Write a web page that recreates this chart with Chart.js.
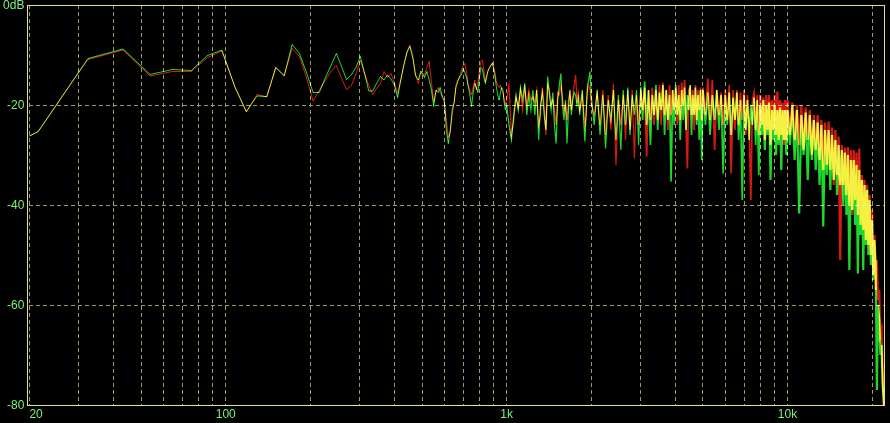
<!DOCTYPE html>
<html><head><meta charset="utf-8">
<script src="https://cdn.jsdelivr.net/npm/chart.js@4.4.1/dist/chart.umd.min.js"></script>
<style>html,body{margin:0;padding:0;background:#000;overflow:hidden}#wrap{width:890px;height:423px}</style>
</head><body><div id="wrap"><canvas id="c" width="890" height="423"></canvas></div>
<script>
// Frequencies (Hz) of the plotted points
const freqs = [
  10.8, 21.5, 32.3, 43.1, 53.8, 64.6, 75.4, 86.1, 96.9, 107.7, 118.4, 129.2, 140, 150.7, 161.5, 172.3, 183,
  193.8, 204.6, 215.3, 226.1, 236.9, 247.6, 258.4, 269.1, 279.9, 290.7, 301.4, 312.2, 323, 333.7, 344.5, 355.3, 366, 376.8, 387.6, 398.3, 409.1, 419.8, 430.6, 441.4, 452.1, 462.9, 473.7, 484.4, 495.2,
  510, 520, 530, 540, 550, 560, 570, 580, 590, 600, 610, 620, 630, 640, 650, 660, 670, 680, 690, 700, 710, 720, 730, 740, 750, 760, 770, 780, 790, 800, 810, 820, 830, 840, 850, 860, 870, 880, 890, 900, 910, 920, 930, 940, 950, 960, 970, 980, 990,
  1000, 1020, 1040, 1060, 1080, 1100, 1120, 1140, 1160, 1180, 1200, 1220, 1240, 1260, 1280, 1300, 1320, 1340, 1360, 1380, 1400, 1420, 1440, 1460, 1480, 1500, 1520, 1540, 1560, 1580, 1600, 1620, 1640, 1660, 1680, 1700, 1720, 1740, 1760, 1780, 1800, 1820, 1840, 1860, 1880, 1900, 1920, 1940, 1960, 1980,
  2000, 2050, 2100, 2150, 2200, 2250, 2300, 2350, 2400, 2450, 2500, 2550, 2600, 2650, 2700, 2750, 2800, 2850, 2900, 2950, 3000, 3050, 3100, 3150, 3200, 3250, 3300, 3350, 3400, 3450, 3500, 3550, 3600, 3650, 3700, 3750, 3800, 3850, 3900, 3950, 4000, 4050, 4100, 4150, 4200, 4250, 4300, 4350, 4400, 4450, 4500, 4550, 4600, 4650, 4700, 4750, 4800, 4850, 4900, 4950,
  5000, 5100, 5200, 5300, 5400, 5500, 5600, 5700, 5800, 5900, 6000, 6100, 6200, 6300, 6400, 6500, 6600, 6700, 6800, 6900, 7000, 7100, 7200, 7300, 7400, 7500, 7600, 7700, 7800, 7900, 8000, 8100, 8200, 8300, 8400, 8500, 8600, 8700, 8800, 8900, 9000, 9100, 9200, 9300, 9400, 9500, 9600, 9700, 9800, 9900,
  10000, 10200, 10400, 10600, 10800, 11000, 11200, 11400, 11600, 11800, 12000, 12200, 12400, 12600, 12800, 13000, 13200, 13400, 13600, 13800, 14000, 14200, 14400, 14600, 14800, 15000, 15200, 15400, 15600, 15800, 16000, 16200, 16400, 16600, 16800, 17000, 17200, 17400, 17600, 17800, 18000, 18200, 18400, 18600, 18800, 19000, 19200, 19400, 19600, 19800, 20000, 20200, 20400, 20600, 20800, 21000, 21200, 21400, 21600, 21800, 22000, 22050
];

// Left channel level (dB) - red trace
const leftChannel = [
  -34, -25.3, -10.9, -9.0, -14.2, -13.3, -13.3, -10.5, -9.2, -16.4, -21.4, -17.9, -18.4, -12.5, -14.2, -8.7, -10.3,
  -14.5, -19.2, -17.0, -15.1, -13.3, -12.1, -14.7, -16.9, -16.1, -13.9, -11.0, -13.7, -16.1, -17.9, -16.7, -15.7, -13.3, -14.5, -13.7, -15.5, -17.7, -15.0, -12.0, -9.5, -8.0, -10.0, -14.0, -15.7, -13.5,
  -14.0, -12.5, -11.3, -15.5, -19.3, -17.5, -16.5, -17.5, -18.0, -19.5, -23.0, -26.5, -25.5, -22.0, -19.7, -16.0, -15.0, -14.5, -13.0, -12.3, -11.7, -13.5, -16.0, -17.0, -18.0, -16.5, -15.0, -17.0, -15.5, -13.0, -11.3, -11.0, -13.0, -15.3, -14.0, -13.0, -12.5, -12.0, -11.5, -12.5, -13.5, -15.5, -16.0, -16.5, -16.0, -17.0, -17.5, -19.0, -20.0,
  -19, -16, -26, -23, -18.5, -20.5, -17, -21, -16.5, -20, -17, -19, -18.5, -19.5, -17, -24, -22, -16.5, -20, -26, -16, -17, -20, -19, -21, -24, -17.5, -18, -16, -18.5, -21, -20, -23, -19, -17.5, -21, -18, -16, -14, -19, -17.5, -21, -20, -18, -21, -24, -22, -17, -16, -17,
  -20, -22, -17.5, -24, -17, -26, -18, -25, -15.7, -32, -19, -24, -18, -27, -17, -25, -17, -30.7, -18, -24, -17, -21, -16.5, -30.3, -17, -23, -16.5, -24, -17, -23, -16, -24, -15.5, -22, -17, -25, -16, -22, -17, -21, -16.5, -24, -16, -23, -15.5, -20, -15, -24, -32.7, -17, -16.5, -22, -17, -25, -16, -23, -17, -21, -16.5, -23,
  -16.5, -22, -14.7, -23, -15, -29, -17, -22, -17.5, -24, -17, -23, -16, -33.7, -17, -25, -17, -24, -17.5, -23, -17, -26, -18, -24, -39, -19, -17.5, -25, -18, -26, -18, -24, -18.5, -27, -18, -25, -18, -28, -19, -25, -18, -26, -17.3, -27, -19, -26, -19.5, -28, -19, -27,
  -19, -26, -19.5, -27, -20, -28, -20, -29, -20.5, -27, -21, -30, -22, -29, -22, -31, -23, -33, -23.5, -32, -23.3, -33, -24.5, -36, -25, -34, -26.3, -51, -28, -36, -28.5, -38, -28.4, -40, -29, -42, -29, -39, -29.5, -42, -28.7, -44, -34, -45, -35, -47, -36, -48, -38, -50, -41, -54, -46, -57, -51, -59, -57, -66, -65, -73, -80, -80
];

// Right channel level (dB) - green trace
const rightChannel = [
  -34, -25.3, -10.7, -8.8, -13.9, -12.9, -13.1, -10.1, -9.0, -16.3, -21.3, -18.2, -18.3, -12.5, -14.1, -7.9, -9.7,
  -13.5, -17.5, -17.5, -14.6, -12.1, -9.7, -12.3, -14.9, -14.0, -12.5, -10.3, -13.7, -17.2, -17.2, -15.7, -14.3, -15.0, -14.0, -14.8, -16.0, -18.5, -15.0, -12.0, -9.5, -8.3, -10.5, -14.0, -15.0, -13.2,
  -14.5, -13.3, -15.0, -17.0, -20.3, -17.0, -17.5, -16.5, -18.5, -19.0, -25.0, -27.7, -25.0, -21.0, -19.5, -16.5, -15.3, -14.3, -14.0, -12.7, -13.5, -14.5, -16.3, -18.0, -20.3, -17.5, -15.7, -16.5, -17.5, -14.5, -12.5, -12.8, -14.5, -15.7, -14.3, -13.0, -12.5, -12.0, -11.7, -13.0, -14.5, -16.5, -18.0, -19.0, -17.5, -16.5, -17.0, -19.5, -21.0,
  -20, -24, -27, -22, -18, -21, -16.5, -19, -15.7, -22, -18, -21, -17, -22, -17, -27, -20, -17.5, -22, -25, -14.3, -18, -21, -17.5, -24, -27.7, -19, -16, -13.7, -20, -23, -19, -27.7, -21, -17, -22, -19, -17.5, -18, -20, -18.5, -22, -19, -17, -23, -27.3, -21, -16, -15, -13.3,
  -18, -24, -17, -26, -18, -28.7, -19, -23, -17, -27, -18, -29, -17, -24, -16.5, -26, -18, -22, -17, -28, -16.5, -23, -15.3, -24, -17, -28, -18, -22, -16, -25, -17.5, -21, -16, -26, -17, -23, -18, -35.3, -17, -24, -16, -22, -18, -27, -17, -23, -16.5, -25, -18, -21, -16, -26, -18, -22, -16.5, -24, -18, -27, -17, -31,
  -17, -24, -17.5, -26, -18, -23, -17, -25, -18, -33.7, -18, -24, -17.5, -26, -18.5, -23, -17.5, -27, -19, -39, -18, -25, -19, -27, -20, -24, -18.5, -28, -19, -34, -20, -26, -19, -29, -20, -26, -19.5, -35, -21, -27, -20, -30, -21, -28, -20.5, -33, -21, -27, -21, -30,
  -21, -28, -20, -31, -21, -41.7, -22, -30, -21.5, -35, -22, -31, -23, -33, -23.5, -36, -24, -44.3, -25, -34, -25, -37, -26, -35, -27, -38, -28, -36, -29, -40, -29.5, -42, -30, -53, -31, -41, -31, -44, -32, -53.7, -33, -46, -35, -53, -36, -48, -37, -50, -39, -52, -43, -55, -47, -52, -77, -60, -63, -70, -68, -76, -79, -80
];

// Axis ticks
const gridFreqs = [20, 30, 40, 50, 60, 70, 80, 90, 100, 200, 300, 400, 500, 600, 700, 800, 900, 1000, 2000, 3000, 4000, 5000, 6000, 7000, 8000, 9000, 10000, 20000];
const xTickLabels = {20: '20', 100: '100', 1000: '1k', 10000: '10k'};
const dbTicks = [0, -20, -40, -60, -80];

const GRID = '#9a9a6a';
const FRAME = '#e2e28e';
const LABEL = '#7cf07c';
const FONT = {family: "'Liberation Sans', Arial, sans-serif", size: 12};

const toPoints = vals => freqs.map((f, i) => ({x: f, y: vals[i]}));
const segWidth = c => {
  const f = c.p0.parsed.x;
  return f >= 8000 ? 2.2 : (f >= 3000 ? 1.7 : (f >= 1000 ? 1.2 : 1));
};

const bgPlugin = {
  id: 'bg',
  beforeDraw(chart) {
    const ctx = chart.ctx;
    ctx.save();
    ctx.fillStyle = '#000';
    ctx.fillRect(0, 0, chart.width, chart.height);
    ctx.restore();
  }
};
const framePlugin = {
  id: 'frame',
  beforeDatasetsDraw(chart) {
    const ca = chart.chartArea, ctx = chart.ctx;
    ctx.save();
    ctx.strokeStyle = FRAME;
    ctx.lineWidth = 1;
    const l = Math.round(ca.left) - 1.5, t = Math.round(ca.top) + 0.5;
    const r = Math.round(ca.right) + 0.5, b = Math.round(ca.bottom) + 0.5;
    ctx.strokeRect(l, t, r - l, b - t);
    ctx.restore();
  }
};
const blendPlugin = {
  id: 'blend',
  beforeDatasetsDraw(chart) { chart.ctx.save(); chart.ctx.globalCompositeOperation = 'lighter'; },
  afterDatasetsDraw(chart) { chart.ctx.restore(); }
};

new Chart(document.getElementById('c'), {
  type: 'line',
  data: {
    datasets: [
      {label: 'L', data: toPoints(leftChannel), borderColor: 'rgb(215,25,20)', borderWidth: 1,
       pointRadius: 0, tension: 0, segment: {borderWidth: segWidth}},
      {label: 'R', data: toPoints(rightChannel), borderColor: 'rgb(30,215,45)', borderWidth: 1,
       pointRadius: 0, tension: 0, segment: {borderWidth: segWidth}}
    ]
  },
  options: {
    responsive: false,
    animation: false,
    devicePixelRatio: 1,
    layout: {padding: {top: 5, right: 6, left: 0, bottom: 0}},
    plugins: {legend: {display: false}, tooltip: {enabled: false}},
    scales: {
      x: {
        type: 'logarithmic', min: 20, max: 22050,
        afterBuildTicks: s => { s.ticks = gridFreqs.map(v => ({value: v})); },
        afterFit: s => { s.height = 18; s.paddingLeft = 0; s.paddingRight = 0; },
        grid: {color: GRID, lineWidth: 1, drawTicks: false},
        border: {display: false, dash: [4, 3]},
        ticks: {autoSkip: false, maxRotation: 0, minRotation: 0, align: 'inner', padding: 2,
                color: LABEL, font: FONT, callback: v => xTickLabels[v] || ''}
      },
      y: {
        min: -80, max: 0,
        afterBuildTicks: s => { s.ticks = dbTicks.map(v => ({value: v})); },
        afterFit: s => { s.width = 29.4; s.paddingTop = 0; s.paddingBottom = 0; },
        grid: {color: GRID, lineWidth: 1, drawTicks: false},
        border: {display: false, dash: [4, 3]},
        ticks: {padding: 5, labelOffset: 1, color: LABEL, font: FONT, callback: v => v === 0 ? '0dB' : String(v)}
      }
    }
  },
  plugins: [bgPlugin, framePlugin, blendPlugin]
});
</script>
</body></html>
